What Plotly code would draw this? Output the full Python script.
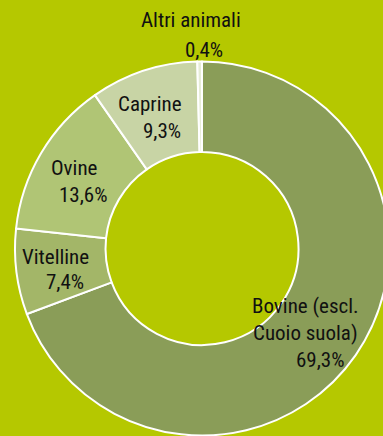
import plotly.graph_objects as go

# Share of hides by animal type (%), clockwise from 12 o'clock
categories = ["Bovine (escl.\nCuoio suola)", "Vitelline", "Ovine", "Caprine", "Altri animali"]
shares = [69.3, 7.4, 13.6, 9.3, 0.4]
slice_colors = ["#8a9d58", "#a3b668", "#b0c575", "#c8d4a5", "#e6ecd6"]

BG = "#b5c800"
W, H = 390, 436
CX, CY, R = 202, 248.5, 187  # donut centre and outer radius, px

# label placement (px, centre of each text line): one list of line centres per slice
label_lines_xy = [
    [(305, 306), (305, 333), (320, 360)],
    [(55, 257), (65, 282)],
    [(74, 168), (83, 195)],
    [(150, 104), (162, 131)],
    [(191, 20), (204, 50)],
]

FONT = "Liberation Sans Narrow, Arial Narrow, Roboto Condensed, Liberation Sans, sans-serif"

fig = go.Figure(go.Pie(
    labels=[c.replace("\n", " ") for c in categories],
    values=shares,
    sort=False,
    direction="clockwise",
    rotation=0,
    hole=0.516,
    marker=dict(colors=slice_colors, line=dict(color="white", width=2)),
    textinfo="none",
    hoverinfo="label+percent",
    showlegend=False,
    domain=dict(x=[(CX - R) / W, (CX + R) / W], y=[(H - CY - R) / H, (H - CY + R) / H]),
))

annotations = []
for cat, val, pos in zip(categories, shares, label_lines_xy):
    lines = cat.split("\n") + [f"{val:.1f}%".replace(".", ",")]
    for txt, (x, y) in zip(lines, pos):
        annotations.append(dict(
            x=x / W, y=1 - y / H, xref="paper", yref="paper",
            text=txt, showarrow=False, xanchor="center", yanchor="middle",
            font=dict(family=FONT, size=21, color="#111111"),
        ))

fig.update_layout(
    width=W, height=H,
    margin=dict(l=0, r=0, t=0, b=0),
    paper_bgcolor=BG, plot_bgcolor=BG,
    annotations=annotations,
)

fig.write_html(
    "out.html",
    config={"displayModeBar": False},
    post_script="document.documentElement.style.overflow='hidden';document.body.style.overflow='hidden';document.body.style.margin='0';document.body.style.background='" + BG + "';",
)
